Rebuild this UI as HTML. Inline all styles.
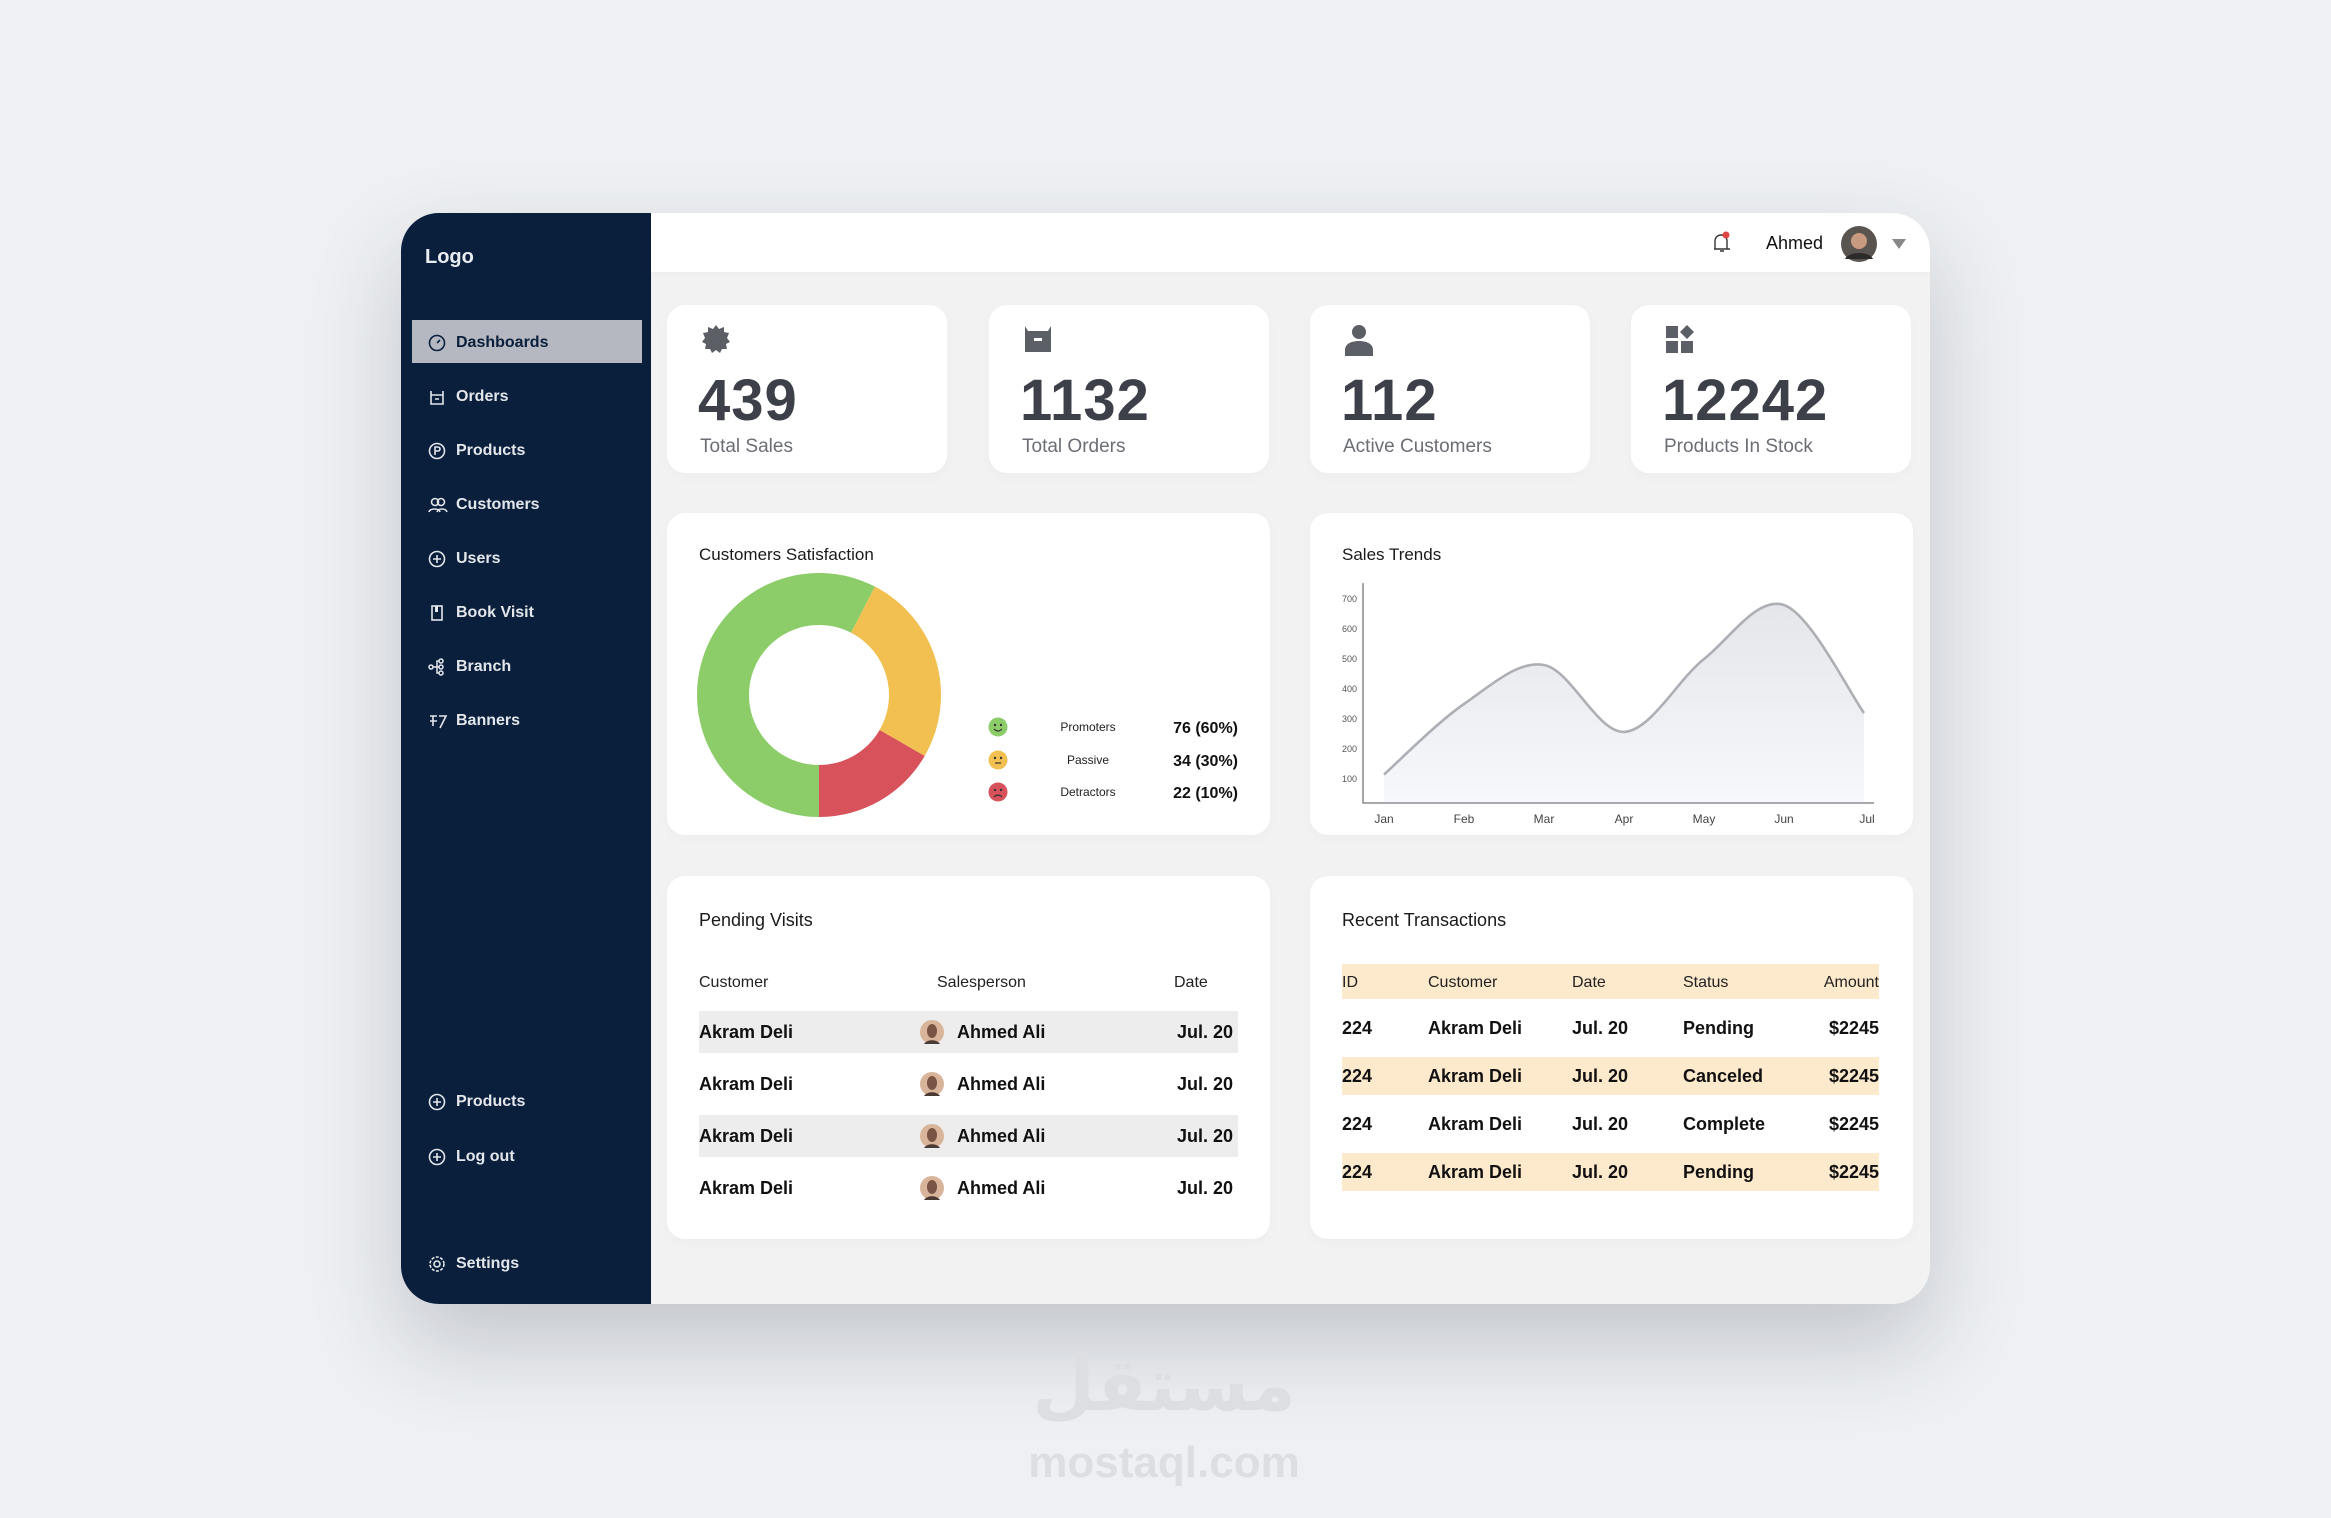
<!DOCTYPE html>
<html><head><meta charset="utf-8">
<style>
*{margin:0;padding:0;box-sizing:border-box}
body{width:2331px;height:1518px;background:#eef0f3;font-family:"Liberation Sans",sans-serif;position:relative;overflow:hidden}
.abs{position:absolute}
#frame{left:401px;top:213px;width:1529px;height:1091px;border-radius:38px;background:#f2f2f3;box-shadow:0 40px 90px rgba(40,50,70,0.22);overflow:hidden}
#sidebar{left:0;top:0;width:250px;height:1091px;background:#0a1f3c}
.nav{position:absolute;left:27px;height:30px;display:flex;align-items:center;color:#e3e6eb;font-weight:bold;font-size:16px}
.nav svg{margin-right:10px}
#header{left:250px;top:0;width:1279px;height:59px;background:#fff;box-shadow:0 2px 6px rgba(0,0,0,0.03)}
.card{position:absolute;background:#fff;border-radius:18px;box-shadow:0 4px 14px rgba(0,0,0,0.025)}
.num{position:absolute;left:31px;top:62px;font-size:58px;font-weight:bold;color:#3d4049;letter-spacing:1px}
.lbl{position:absolute;left:33px;top:131px;font-size:19px;color:#6b6e75}
.ico{position:absolute;left:33px;top:18px}
.title{position:absolute;font-size:17px;color:#1a1a1a}
.t2{font-size:18px}
.cell{position:absolute;font-size:18px;font-weight:bold;color:#111;line-height:22px}
.hd{position:absolute;font-size:16px;color:#222;line-height:20px}
</style></head><body>
<div id="frame" class="abs">
  <div id="sidebar" class="abs">
    <div class="abs" style="left:24px;top:33px;font-size:20px;font-weight:bold;color:#e9ecf1">Logo</div>
    <div class="abs" style="left:11px;top:107px;width:230px;height:43px;background:#b5b8c0"></div>
    <div class="nav" style="top:115px;color:#0a1f3c"><svg width="18" height="18" viewBox="0 0 18 18"><circle cx="9" cy="9" r="7.5" fill="none" stroke="#0a1f3c" stroke-width="1.6"/><path d="M9 9l3-3" stroke="#0a1f3c" stroke-width="1.6"/></svg>Dashboards</div>
    <div class="nav" style="top:169px"><svg width="18" height="18" viewBox="0 0 18 18"><path d="M3 3v13h12V3M3 7h12M7 11h4" fill="none" stroke="#e3e6eb" stroke-width="1.6"/></svg>Orders</div>
    <div class="nav" style="top:223px"><svg width="18" height="18" viewBox="0 0 18 18"><circle cx="9" cy="9" r="7.5" fill="none" stroke="#e3e6eb" stroke-width="1.6"/><path d="M7 13V5h3a2 2 0 010 4H7" fill="none" stroke="#e3e6eb" stroke-width="1.6"/></svg>Products</div>
    <div class="nav" style="top:277px"><svg width="20" height="18" viewBox="0 0 20 18" style="margin-right:8px"><circle cx="7" cy="6" r="3.5" fill="none" stroke="#e3e6eb" stroke-width="1.6"/><circle cx="13" cy="6" r="3.5" fill="none" stroke="#e3e6eb" stroke-width="1.6"/><path d="M1 16c1-4 10-4 11 0M9 16c1-4 9-4 10 0" fill="none" stroke="#e3e6eb" stroke-width="1.6"/></svg>Customers</div>
    <div class="nav" style="top:331px"><svg width="18" height="18" viewBox="0 0 18 18"><circle cx="9" cy="9" r="7.5" fill="none" stroke="#e3e6eb" stroke-width="1.6"/><path d="M9 5v8M5 9h8" stroke="#e3e6eb" stroke-width="1.6"/></svg>Users</div>
    <div class="nav" style="top:385px"><svg width="18" height="18" viewBox="0 0 18 18"><rect x="4" y="2" width="10" height="14" fill="none" stroke="#e3e6eb" stroke-width="1.6"/><rect x="7" y="2" width="3" height="6" fill="#e3e6eb"/></svg>Book Visit</div>
    <div class="nav" style="top:439px"><svg width="18" height="18" viewBox="0 0 18 18"><circle cx="3" cy="9" r="2" fill="none" stroke="#e3e6eb" stroke-width="1.5"/><circle cx="13" cy="3" r="2" fill="none" stroke="#e3e6eb" stroke-width="1.5"/><circle cx="13" cy="9" r="2" fill="none" stroke="#e3e6eb" stroke-width="1.5"/><circle cx="13" cy="15" r="2" fill="none" stroke="#e3e6eb" stroke-width="1.5"/><path d="M5 9h6M9 9V3h2M9 9v6h2" fill="none" stroke="#e3e6eb" stroke-width="1.5"/></svg>Branch</div>
    <div class="nav" style="top:493px"><svg width="20" height="18" viewBox="0 0 20 18" style="margin-right:8px"><path d="M2 4h7M2 9h7M5 4v10M11 4h7l-6 12" fill="none" stroke="#e3e6eb" stroke-width="1.6"/></svg>Banners</div>
    <div class="nav" style="top:874px"><svg width="18" height="18" viewBox="0 0 18 18"><circle cx="9" cy="9" r="7.5" fill="none" stroke="#e3e6eb" stroke-width="1.6"/><path d="M9 5v8M5 9h8" stroke="#e3e6eb" stroke-width="1.6"/></svg>Products</div>
    <div class="nav" style="top:929px"><svg width="18" height="18" viewBox="0 0 18 18"><circle cx="9" cy="9" r="7.5" fill="none" stroke="#e3e6eb" stroke-width="1.6"/><path d="M9 5v8M5 9h8" stroke="#e3e6eb" stroke-width="1.6"/></svg>Log out</div>
    <div class="nav" style="top:1036px"><svg width="18" height="18" viewBox="0 0 18 18"><circle cx="9" cy="9" r="7" fill="none" stroke="#e3e6eb" stroke-width="1.6" stroke-dasharray="3 1.5"/><circle cx="9" cy="9" r="3" fill="none" stroke="#e3e6eb" stroke-width="1.6"/></svg>Settings</div>
  </div>
  <div id="header" class="abs">
    <svg class="abs" style="left:1060px;top:17px" width="22" height="26" viewBox="0 0 22 26"><path d="M4 19V11a6 6 0 0112 0v8H3h16" fill="none" stroke="#333" stroke-width="1.4"/><path d="M9 21h4" stroke="#333" stroke-width="1.4"/><circle cx="15" cy="5" r="3.5" fill="#e04444"/></svg>
    <div class="abs" style="left:1115px;top:20px;font-size:18px;color:#111">Ahmed</div>
    <svg class="abs" style="left:1189px;top:12px" width="38" height="38"><circle cx="19" cy="19" r="18" fill="#5a5450"/><circle cx="19" cy="16" r="8" fill="#c89a80"/><path d="M5 34c4-8 24-8 28 0" fill="#2d2a2a"/></svg>
    <svg class="abs" style="left:1240px;top:25px" width="16" height="12"><path d="M1 1h14L8 11z" fill="#888"/></svg>
  </div>

  <div class="card" style="left:266px;top:92px;width:280px;height:168px">
    <svg class="ico" width="32" height="32" viewBox="0 0 32 32"><polygon points="16,2 19,6 24,4 24,9 29,10 27,15 30,19 26,21 27,26 22,26 20,30 16,27 12,30 10,26 5,26 6,21 2,19 5,15 3,10 8,9 8,4 13,6" fill="#5d5f66"/></svg>
    <div class="num">439</div>
    <div class="lbl">Total Sales</div>
  </div>
  <div class="card" style="left:588px;top:92px;width:280px;height:168px">
    <svg class="ico" width="32" height="32" viewBox="0 0 32 32"><path d="M3 3l3 5h20l3-5v26H3z" fill="#5d5f66"/><rect x="12" y="15" width="8" height="3" fill="#fff"/></svg>
    <div class="num">1132</div>
    <div class="lbl">Total Orders</div>
  </div>
  <div class="card" style="left:909px;top:92px;width:280px;height:168px">
    <svg class="ico" width="32" height="34" viewBox="0 0 32 34"><circle cx="16" cy="9" r="7" fill="#5d5f66"/><path d="M2 33v-6c0-6 6-9 14-9s14 3 14 9v6z" fill="#5d5f66"/></svg>
    <div class="num">112</div>
    <div class="lbl">Active Customers</div>
  </div>
  <div class="card" style="left:1230px;top:92px;width:280px;height:168px">
    <svg class="ico" width="32" height="32" viewBox="0 0 32 32"><rect x="2" y="3" width="12" height="12" fill="#5d5f66"/><polygon points="23,2 30,9 23,16 16,9" fill="#5d5f66"/><rect x="2" y="18" width="12" height="12" fill="#5d5f66"/><rect x="17" y="18" width="12" height="12" fill="#5d5f66"/></svg>
    <div class="num">12242</div>
    <div class="lbl">Products In Stock</div>
  </div>

  <div class="card" style="left:266px;top:300px;width:603px;height:322px">
    <div class="title" style="left:32px;top:32px">Customers Satisfaction</div>
    <svg id="donut" class="abs" style="left:0;top:0" width="603" height="322"></svg>
  </div>
  <div class="card" style="left:909px;top:300px;width:603px;height:322px">
    <div class="title" style="left:32px;top:32px">Sales Trends</div>
    <svg id="trend" class="abs" style="left:0;top:0" width="603" height="322"></svg>
  </div>

  <div class="card" style="left:266px;top:663px;width:603px;height:363px">
    <div class="title t2" style="left:32px;top:34px">Pending Visits</div>
    <div class="hd" style="left:32px;top:97px">Customer</div>
    <div class="hd" style="left:270px;top:97px">Salesperson</div>
    <div class="hd" style="left:507px;top:97px">Date</div>
    <div id="pv"></div>
  </div>
  <div class="card" style="left:909px;top:663px;width:603px;height:363px">
    <div class="title t2" style="left:32px;top:34px">Recent Transactions</div>
    <div class="abs" style="left:32px;top:88px;width:537px;height:35px;background:#fde9cc"></div>
    <div class="hd" style="left:32px;top:97px">ID</div>
    <div class="hd" style="left:118px;top:97px">Customer</div>
    <div class="hd" style="left:262px;top:97px">Date</div>
    <div class="hd" style="left:373px;top:97px">Status</div>
    <div class="hd" style="left:469px;top:97px;width:100px;text-align:right">Amount</div>
    <div id="rt"></div>
  </div>
</div>

<div class="abs" style="left:964px;top:1340px;width:400px;text-align:center;font-family:'DejaVu Sans',sans-serif;font-size:72px;font-weight:bold;color:#dcdee2;line-height:90px">مستقل</div>
<div class="abs" style="left:964px;top:1438px;width:400px;text-align:center;font-size:44px;font-weight:bold;color:#dcdee2">mostaql.com</div>

<script>
// Donut data
const satLabels = ["Promoters","Passive","Detractors"];
const satCounts = [76,34,22];
const satPct = ["60%","30%","10%"];
// Sales trend data
const months = ["Jan","Feb","Mar","Apr","May","Jun","Jul"];
const sales = [115,350,480,257,500,680,320];
const yTicks = [100,200,300,400,500,600,700];

const NS="http://www.w3.org/2000/svg";
function mk(parent,tag,attrs){const e=document.createElementNS(NS,tag);for(const k in attrs)e.setAttribute(k,attrs[k]);parent.appendChild(e);return e;}

(function(){
  const svg=document.getElementById('donut');
  const cx=152,cy=182,R=122,r=70;
  const colors=["#8dcd69","#f1c050","#d7525b"];
  const total=satCounts.reduce((a,b)=>a+b,0);
  let start=180-(satCounts[1]+satCounts[2])/total*360;
  const order=[1,2,0];
  function pt(rad,deg){const a=(deg-90)*Math.PI/180;return [cx+rad*Math.cos(a),cy+rad*Math.sin(a)];}
  order.forEach(i=>{
    const sweep=satCounts[i]/total*360, end=start+sweep, large=sweep>180?1:0;
    const p1=pt(R,start),p2=pt(R,end),p3=pt(r,end),p4=pt(r,start);
    const p=mk(svg,'path',{d:`M${p1}A${R},${R} 0 ${large} 1 ${p2}L${p3}A${r},${r} 0 ${large} 0 ${p4}Z`,fill:colors[i]});
    
    
    start=end;
  });
  const ys=[214,247,279];
  const faces=["smile","neutral","sad"];
  satLabels.forEach((l,i)=>{
    const g=mk(svg,'g',{});
    
    
    mk(g,'circle',{cx:331,cy:ys[i],r:9.5,fill:colors[i]});
    mk(g,'circle',{cx:328,cy:ys[i]-2,r:1.2,fill:'#333'});
    mk(g,'circle',{cx:334,cy:ys[i]-2,r:1.2,fill:'#333'});
    const m=faces[i]=="smile"?`M327 ${ys[i]+2}q4 4 8 0`:faces[i]=="sad"?`M327 ${ys[i]+5}q4 -4 8 0`:`M328 ${ys[i]+3}h6`;
    mk(g,'path',{d:m,stroke:'#333','stroke-width':1.2,fill:'none'});
    const t=mk(g,'text',{x:421,y:ys[i]+4,'font-size':12,'text-anchor':'middle',fill:'#222','font-family':'Liberation Sans'});t.textContent=l;
    const v=mk(g,'text',{x:571,y:ys[i]+6,'font-size':16,'font-weight':'bold','text-anchor':'end',fill:'#111','font-family':'Liberation Sans'});v.textContent=satCounts[i]+" ("+satPct[i]+")";
  });
})();

(function(){
  const svg=document.getElementById('trend');
  const x0=74, step=80;
  const X=i=>x0+i*step;
  const Y=v=>296-(v-0)*0.3;
  const defs=mk(svg,'defs',{});
  const lg=mk(defs,'linearGradient',{id:'gf',x1:0,y1:0,x2:0,y2:1});
  mk(lg,'stop',{offset:'0','stop-color':'#e4e6ea'});
  mk(lg,'stop',{offset:'1','stop-color':'#f6f8fc'});
  const axisY=Y(20);
  const ax=mk(svg,'path',{d:`M53 ${Y(753)}V${axisY}H564`,stroke:'#777','stroke-width':1.3,fill:'none'});
  
  
  yTicks.forEach(t=>{
    const e=mk(svg,'text',{x:32,y:Y(t)+3,'font-size':9,fill:'#555','font-family':'Liberation Sans'});e.textContent=t;
    
    
  });
  months.forEach((m,i)=>{
    const e=mk(svg,'text',{x:X(i)+(i==6?3:0),y:axisY+20,'font-size':12,'text-anchor':'middle',fill:'#444','font-family':'Liberation Sans'});e.textContent=m;
    
    
  });
  const pts=sales.map((v,i)=>[X(i),Y(v)]);
  let d=`M${pts[0][0]},${pts[0][1]}`;
  for(let i=0;i<pts.length-1;i++){
    const p0=pts[i-1]||pts[i],p1=pts[i],p2=pts[i+1],p3=pts[i+2]||p2;
    const c1=[p1[0]+(p2[0]-p0[0])/6,p1[1]+(p2[1]-p0[1])/6];
    const c2=[p2[0]-(p3[0]-p1[0])/6,p2[1]-(p3[1]-p1[1])/6];
    d+=`C${c1} ${c2} ${p2}`;
  }
  const area=mk(svg,'path',{d:d+`L${pts[pts.length-1][0]},${axisY}L${pts[0][0]},${axisY}Z`,fill:'url(#gf)'});
  
  
  const line=mk(svg,'path',{d:d,fill:'none',stroke:'#adafb5','stroke-width':2.6});
  
  
  svg.appendChild(ax);
})();

(function(){
  const c=document.getElementById('pv');
  const tops=[156,208,260,312];
  tops.forEach((t,i)=>{
    const r=document.createElement('div');
    
    
    r.className='abs';
    r.style.cssText=`left:32px;top:${t-21}px;width:539px;height:42px;${i%2==0?'background:#ededee;':''}`;
    r.innerHTML=`<div class="cell" style="left:0;top:10px">Akram Deli</div>
<svg class="abs" style="left:220px;top:8px" width="26" height="26"><circle cx="13" cy="13" r="12" fill="#d8b49a"/><ellipse cx="13" cy="12" rx="5" ry="7" fill="#7a5545"/><path d="M5 25c3-5 13-5 16 0" fill="#4a3a35"/></svg>
<div class="cell" style="left:258px;top:10px">Ahmed Ali</div>
<div class="cell" style="left:430px;top:10px;width:104px;text-align:right">Jul. 20</div>`;
    c.appendChild(r);
  });
})();
(function(){
  const c=document.getElementById('rt');
  const statuses=["Pending","Canceled","Complete","Pending"];
  const tops=[152,200,248,296];
  tops.forEach((t,i)=>{
    const r=document.createElement('div');
    
    
    r.className='abs';
    r.style.cssText=`left:32px;top:${t-19}px;width:537px;height:38px;${i%2==1?'background:#fde9cc;':''}`;
    r.innerHTML=`<div class="cell" style="left:0;top:8px">224</div><div class="cell" style="left:86px;top:8px">Akram Deli</div><div class="cell" style="left:230px;top:8px">Jul. 20</div><div class="cell" style="left:341px;top:8px">${statuses[i]}</div><div class="cell" style="left:437px;top:8px;width:100px;text-align:right">$2245</div>`;
    c.appendChild(r);
  });
})();
</script>
</body></html>
